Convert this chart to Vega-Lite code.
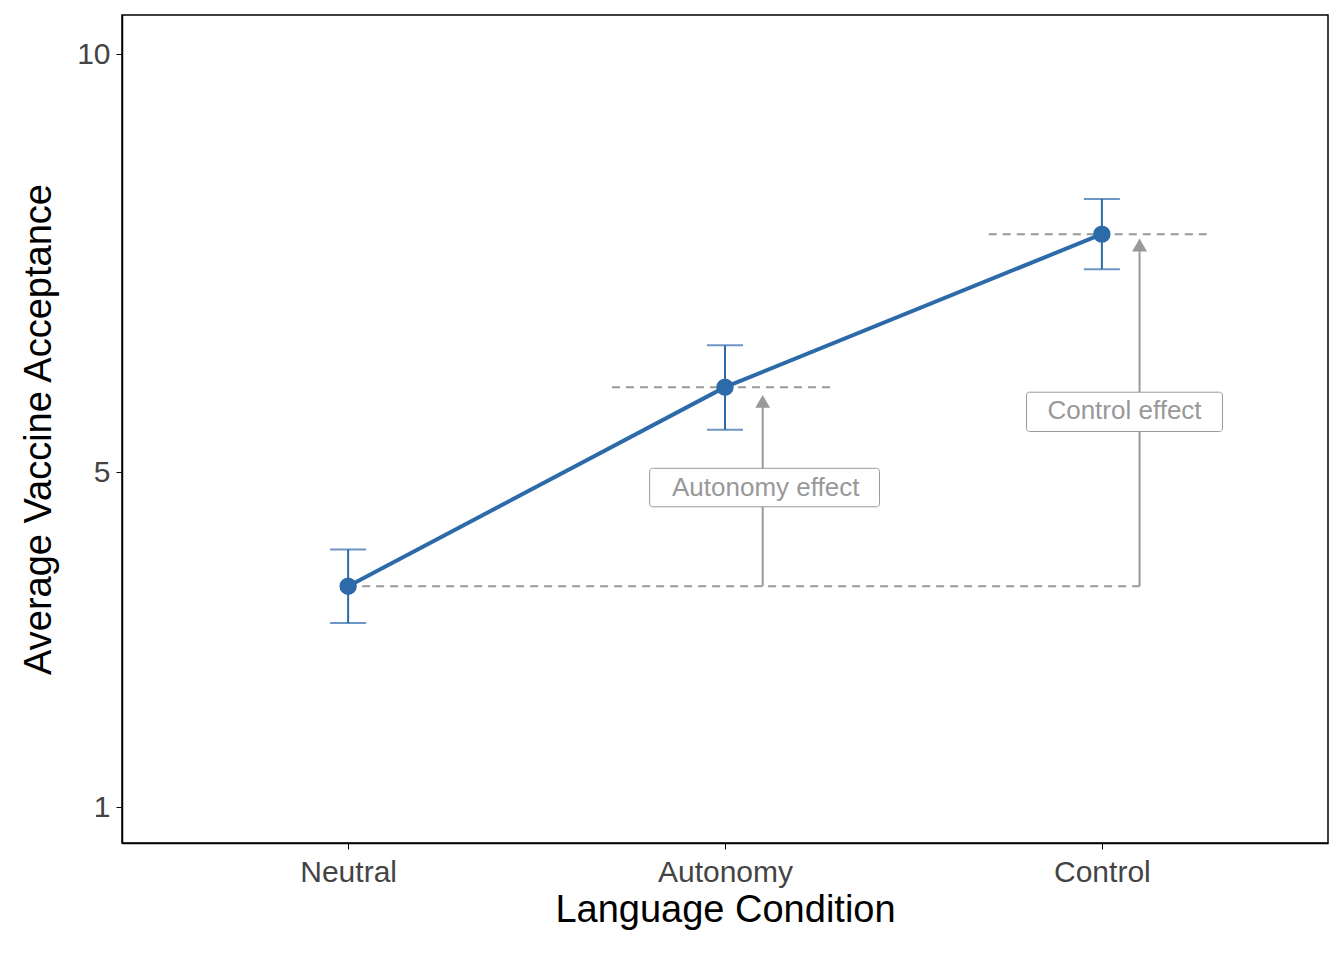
{
"$schema":"https://vega.github.io/schema/vega-lite/v6.json",
"width":1206,"height":828,"autosize":{"type":"none"},
"padding":{"left":122,"top":15,"right":16,"bottom":117},
"background":"white",
"config":{"view":{"stroke":"black","strokeWidth":1.5},"font":"Liberation Sans",
 "axis":{"grid":false,"domainColor":"black","domainWidth":1.5,"tickColor":"black","tickSize":6,"labelFontSize":30,"labelColor":"#444444","titleFontSize":38,"titleFontWeight":"normal","titleColor":"black"},
 "axisX":{"labelPadding":8,"titlePadding":4},
 "axisY":{"labelPadding":6,"titlePadding":18}},
"datasets":{
"pts":[{"x":1,"cond":"Neutral","m":3.64,"lo":3.2,"hi":4.08},{"x":2,"cond":"Autonomy","m":6.02,"lo":5.51,"hi":6.52},{"x":3,"cond":"Control","m":7.85,"lo":7.43,"hi":8.27}],
"dash":[{"x1":1,"x2":3.1,"y":3.64},{"x1":1.7,"x2":2.28,"y":6.02},{"x1":2.7,"x2":3.28,"y":7.85}],
"arr":[{"x":2.1,"y1":3.64,"y2":5.85},{"x":3.1,"y1":3.64,"y2":7.72}],
"lab":[{"x":2.108,"y":4.82,"x1":1.8,"x2":2.41,"y1":4.59,"y2":5.05,"t":"Autonomy effect"},{"x":3.06,"y":5.74,"x1":2.8,"x2":3.32,"y1":5.49,"y2":5.96,"t":"Control effect"}]
},
"layer":[
{"data":{"name":"dash"},"mark":{"type":"rule","color":"#999999","strokeWidth":2,"strokeDash":[8,6]},
 "encoding":{"x":{"field":"x1","type":"quantitative","scale":{"domain":[0.4,3.6],"nice":false,"zero":false},
   "axis":{"values":[1,2,3],"labelExpr":"['','Neutral','Autonomy','Control'][datum.value]","title":"Language Condition"}},
  "x2":{"field":"x2"},
  "y":{"field":"y","type":"quantitative","scale":{"domain":[0.57,10.47],"nice":false,"zero":false},
   "axis":{"values":[1,5,10],"format":"d","title":"Average Vaccine Acceptance"}}}},
{"data":{"name":"arr"},"mark":{"type":"rule","color":"#999999","strokeWidth":2},
 "encoding":{"x":{"field":"x","type":"quantitative"},"y":{"field":"y1","type":"quantitative"},"y2":{"field":"y2"}}},
{"data":{"name":"arr"},"mark":{"type":"point","shape":"triangle-up","filled":true,"color":"#999999","size":220,"opacity":1},
 "encoding":{"x":{"field":"x","type":"quantitative"},"y":{"field":"y2","type":"quantitative"}}},
{"data":{"name":"lab"},"mark":{"type":"rect","fill":"white","stroke":"#999999","strokeWidth":1,"cornerRadius":3},
 "encoding":{"x":{"field":"x1","type":"quantitative"},"x2":{"field":"x2"},"y":{"field":"y1","type":"quantitative"},"y2":{"field":"y2"}}},
{"data":{"name":"lab"},"mark":{"type":"text","color":"#999999","fontSize":26,"baseline":"middle"},
 "encoding":{"x":{"field":"x","type":"quantitative"},"y":{"field":"y","type":"quantitative"},"text":{"field":"t"}}},
{"data":{"name":"pts"},"mark":{"type":"line","color":"#2d6aa9","strokeWidth":4},
 "encoding":{"x":{"field":"x","type":"quantitative"},"y":{"field":"m","type":"quantitative"}}},
{"data":{"name":"pts"},"mark":{"type":"rule","color":"#2d6aa9","strokeWidth":2},
 "encoding":{"x":{"field":"x","type":"quantitative"},"y":{"field":"lo","type":"quantitative"},"y2":{"field":"hi"}}},
{"data":{"name":"pts"},"mark":{"type":"tick","orient":"horizontal","color":"#2d6aa9","thickness":2,"size":36},
 "encoding":{"x":{"field":"x","type":"quantitative"},"y":{"field":"lo","type":"quantitative"}}},
{"data":{"name":"pts"},"mark":{"type":"tick","orient":"horizontal","color":"#2d6aa9","thickness":2,"size":36},
 "encoding":{"x":{"field":"x","type":"quantitative"},"y":{"field":"hi","type":"quantitative"}}},
{"data":{"name":"pts"},"mark":{"type":"point","filled":true,"color":"#2d6aa9","size":300,"opacity":1},
 "encoding":{"x":{"field":"x","type":"quantitative"},"y":{"field":"m","type":"quantitative"}}}
]}
